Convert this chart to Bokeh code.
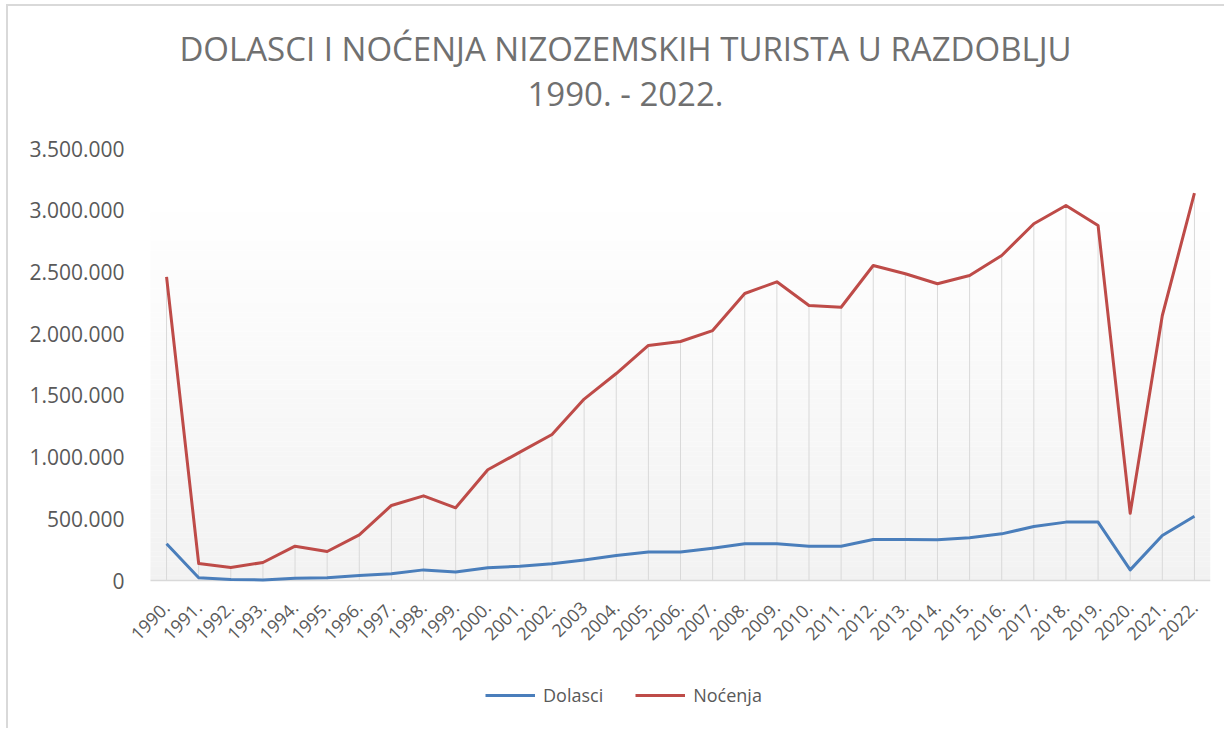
import numpy as np
from bokeh.plotting import figure
from bokeh.models import (Range1d, FixedTicker, CustomJSTickFormatter, Label,
                          Legend, LegendItem)
from bokeh.embed import file_html
from bokeh.resources import INLINE

years = ["1990.", "1991.", "1992.", "1993.", "1994.", "1995.", "1996.", "1997.", "1998.",
         "1999.", "2000.", "2001.", "2002.", "2003", "2004.", "2005.", "2006.", "2007.",
         "2008.", "2009.", "2010.", "2011.", "2012.", "2013.", "2014.", "2015.", "2016.",
         "2017.", "2018.", "2019.", "2020.", "2021.", "2022."]

dolasci = [297000, 22000, 8000, 5000, 19000, 22000, 40000, 54000, 86000, 68000,
           103000, 116000, 135000, 167000, 203000, 230000, 230000, 262000, 297000, 297000,
           278000, 278000, 332000, 332000, 330000, 346000, 378000, 437000, 473000, 473000,
           86000, 365000, 521000]

nocenja = [2460000, 138000, 105000, 146000, 278000, 235000, 370000, 608000, 686000, 589000,
           897000, 1040000, 1183000, 1470000, 1677000, 1904000, 1936000, 2025000, 2325000, 2420000,
           2228000, 2214000, 2552000, 2485000, 2404000, 2471000, 2633000, 2890000, 3038000, 2876000,
           545000, 2147000, 3138000]

y_ticks = [0, 500000, 1000000, 1500000, 2000000, 2500000, 3000000, 3500000]

title_line1 = "DOLASCI I NOĆENJA NIZOZEMSKIH TURISTA U RAZDOBLJU"
title_line2 = "1990. - 2022."
series_names = ["Dolasci", "Noćenja"]

FONT = "Open Sans"
TXT = "#595959"

# ---- layout in page pixels ----
OX, OY = 8, 6            # canvas origin on the page
W, H = 1218, 724
F_L, F_R, F_T, F_B = 124, 1210, 10, 725   # frame edges (page px)
PA_L = 150                                # left edge of the plot area (page px)
Y0_PX, YMAX_PX = 580, 148                 # page y of 0 and of 3.5M
ppu = (Y0_PX - YMAX_PX) / 3500000.0
y_lo = -(F_B - Y0_PX) / ppu
y_hi = (Y0_PX - F_T) / ppu
n = len(years)
px_cat = (F_R - PA_L) / n
x_lo = -0.5 - (PA_L - F_L) / px_cat

x = list(range(n))

p = figure(width=W, height=H, output_backend="svg", toolbar_location=None, title=None,
           x_range=Range1d(x_lo, n - 0.5), y_range=Range1d(y_lo, y_hi),
           min_border_left=F_L - OX, min_border_right=OX + W - F_R,
           min_border_top=F_T - OY, min_border_bottom=OY + H - F_B,
           background_fill_color="white", border_fill_color="white",
           styles={"border-left": "2px solid #d9d9d9", "border-top": "2px solid #d9d9d9",
                   "margin-left": "6px", "margin-top": "4px"})
p.outline_line_color = None
p.xgrid.visible = False
p.ygrid.visible = False

# gradient plot area background (white top -> light gray bottom)
nb = 80
edges = np.linspace(0, 3100000, nb + 1)
cols = []
for i in range(nb):
    t = (i + 0.5) / nb
    c = int(round(242 + (255 - 242) * t))
    cols.append("#%02x%02x%02x" % (c, c, c))
p.quad(left=-0.5, right=n - 0.5, bottom=edges[:-1], top=edges[1:],
       fill_color=cols, line_color=None)

# drop lines
p.segment(x0=x, y0=[0] * n, x1=x, y1=nocenja, line_color="#d9d9d9", line_width=1)

# category axis baseline
p.segment(x0=[-0.5], y0=[0], x1=[n - 0.5], y1=[0], line_color="#d9d9d9", line_width=1.5)

r1 = p.line(x, dolasci, line_color="#4a7ebb", line_width=3, line_join="round")
r2 = p.line(x, nocenja, line_color="#be4b48", line_width=3, line_join="round")

# axes
p.xaxis.fixed_location = 0
p.xaxis.ticker = FixedTicker(ticks=x)
p.xaxis.major_label_overrides = {i: lab for i, lab in enumerate(years)}
p.xaxis.major_label_orientation = np.pi / 4
p.xaxis.axis_line_color = None
p.xaxis.major_tick_line_color = None
p.xaxis.minor_tick_line_color = None
p.xaxis.major_tick_out = 0
p.xaxis.major_label_standoff = 24
p.xaxis.major_label_text_font = FONT
p.xaxis.major_label_text_font_size = "18px"
p.xaxis.major_label_text_color = TXT

p.yaxis.ticker = FixedTicker(ticks=y_ticks)
p.yaxis.formatter = CustomJSTickFormatter(code="""
    return Math.round(tick).toString().replace(/\\B(?=(\\d{3})+(?!\\d))/g, '.');
""")
p.yaxis.axis_line_color = None
p.yaxis.major_tick_line_color = None
p.yaxis.minor_tick_line_color = None
p.yaxis.major_tick_out = 0
p.yaxis.major_label_standoff = 0
p.yaxis.major_label_text_font = FONT
p.yaxis.major_label_text_font_size = "21px"
p.yaxis.major_label_text_color = TXT

# title (two lines), positioned in screen px relative to frame bottom-left
for txt, base in [(title_line1, 47.5), (title_line2, 92.5)]:
    p.add_layout(Label(x=625 - F_L, y=F_B - base, x_units="screen", y_units="screen",
                       text=txt, text_align="center", text_baseline="alphabetic",
                       text_font=FONT, text_font_size="33px", text_color="#707070"))

legend = Legend(items=[LegendItem(label=series_names[0], renderers=[r1]),
                       LegendItem(label=series_names[1], renderers=[r2])],
                orientation="horizontal", location=(485 - F_L, F_B - 707),
                glyph_width=50, glyph_height=20, label_standoff=8, spacing=32,
                padding=0, margin=0, border_line_color=None, background_fill_alpha=0,
                label_text_font=FONT, label_text_font_size="18px", label_text_color=TXT)
p.add_layout(legend)

open("out.html", "w").write(file_html(p, INLINE))
